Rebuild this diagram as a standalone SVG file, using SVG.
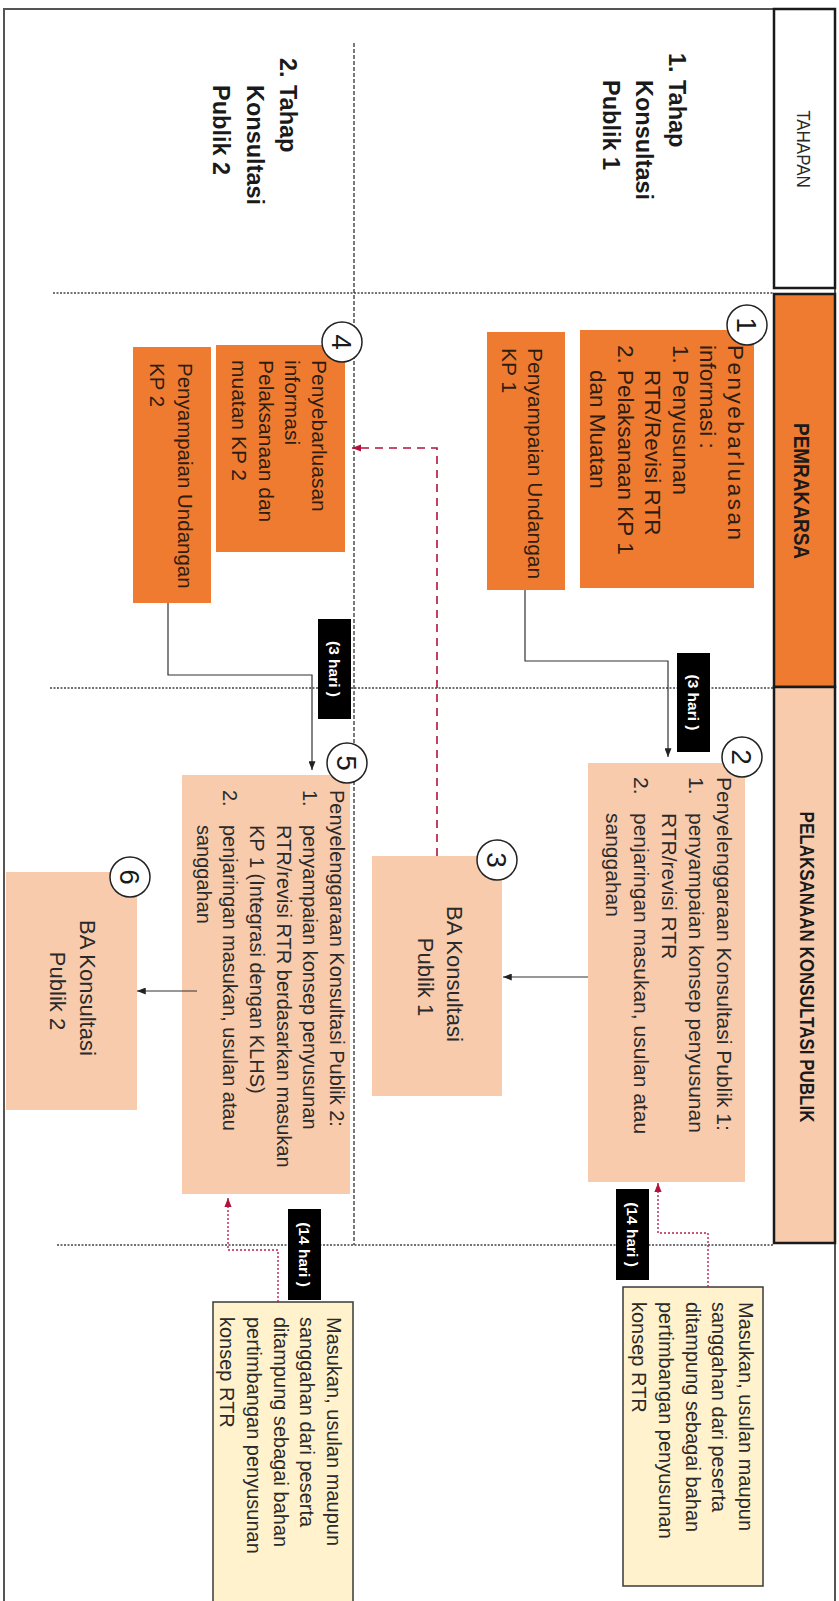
<svg xmlns="http://www.w3.org/2000/svg" width="839" height="1601" viewBox="0 0 839 1601">
  <style>
    text { font-family: "Liberation Sans", Arial, sans-serif; fill: #2a2a2a; }
    .t21 { font-size: 21px; }
    .t20 { font-size: 20px; }
    .t22 { font-size: 22px; }
    .dark { fill: #2e1d12; }
    .ttl { font-size: 23.5px; font-weight: bold; fill: #1a1a1a; }
    .hd { font-weight: bold; fill: #1a1a1a; }
    .badge-t { font-size: 15.5px; font-weight: bold; fill: #ffffff; }
    .num-t { font-size: 28px; fill: #1a1a1a; }
    .mid { text-anchor: middle; }
    .box-o { fill: #EE7B30; }
    .box-p { fill: #F8CBAD; }
    .note { fill: #FFF2CC; stroke: #3a3a3a; stroke-width: 1.5; }
    .hdr { stroke: #1a1a1a; stroke-width: 2.5; }
    .sep { stroke: #444; stroke-width: 1.3; stroke-dasharray: 2 1.5; fill: none; }
    .sepv { stroke: #333; stroke-width: 1.3; stroke-dasharray: 4 2; fill: none; }
    .link { fill: none; stroke: #333; stroke-width: 1.2; }
    .red-dash { fill: none; stroke: #B3123A; stroke-width: 1.6; stroke-dasharray: 8 6; }
    .red-dot { fill: none; stroke: #B8204A; stroke-width: 1.4; stroke-dasharray: 2 2; }
    .badge { fill: #000; }
    .num { fill: #fff; stroke: #222; stroke-width: 1.5; }
  </style>
  <defs>
    <marker id="arr" viewBox="0 0 10 8" refX="10" refY="4" markerWidth="9" markerHeight="7" markerUnits="userSpaceOnUse" orient="auto">
      <path d="M0,0 L10,4 L0,8 z" fill="#222"/>
    </marker>
    <marker id="arr-red" viewBox="0 0 10 8" refX="10" refY="4" markerWidth="9" markerHeight="8" markerUnits="userSpaceOnUse" orient="auto">
      <path d="M0,0 L10,4 L0,8 z" fill="#B3123A"/>
    </marker>
  </defs>

  <rect width="839" height="1601" fill="#ffffff"/>

  <!-- page frame (bottom edge runs off the page) -->
  <rect x="4" y="9" width="831" height="1620" fill="none" stroke="#555" stroke-width="2"/>

  <!-- header column -->
  <g id="hdr-tahapan">
    <rect x="774" y="9" width="61" height="279" fill="#fff" class="hdr"/>
    <text class="mid" font-size="17" transform="translate(797,149) rotate(90) scale(1,1.1)">TAHAPAN</text>
  </g>
  <g id="hdr-pemrakarsa">
    <rect x="774" y="294" width="61" height="393" class="box-o hdr"/>
    <text class="hd mid" font-size="19" transform="translate(794,491) rotate(90) scale(1,1.18)">PEMRAKARSA</text>
  </g>
  <g id="hdr-pelaksanaan">
    <rect x="774" y="687" width="61" height="556" class="box-p hdr"/>
    <text class="hd mid" font-size="17" transform="translate(800,967) rotate(90) scale(1,1.18)">PELAKSANAAN KONSULTASI PUBLIK</text>
  </g>

  <!-- lane separators -->
  <g id="separators">
    <line x1="53" y1="293" x2="774" y2="293" class="sep"/>
    <line x1="50" y1="688" x2="774" y2="688" class="sep"/>
    <line x1="57" y1="1245" x2="774" y2="1245" class="sep"/>
    <line x1="354" y1="43" x2="354" y2="1245" class="sepv"/>
  </g>

  <!-- stage titles -->
  <g id="stage-1">
    <text class="ttl" transform="translate(669,53) rotate(90)">
      <tspan x="0" y="0">1.</tspan><tspan x="27" y="0">Tahap</tspan>
      <tspan x="27" y="33">Konsultasi</tspan>
      <tspan x="27" y="66">Publik 1</tspan>
    </text>
  </g>
  <g id="stage-2">
    <text class="ttl" transform="translate(280,58) rotate(90)">
      <tspan x="0" y="0">2.</tspan><tspan x="27" y="0">Tahap</tspan>
      <tspan x="27" y="33.5">Konsultasi</tspan>
      <tspan x="27" y="67">Publik 2</tspan>
    </text>
  </g>

  <!-- process boxes -->
  <g id="node-1">
    <rect x="580" y="330" width="174" height="258" class="box-o"/>
    <text class="dark" font-size="22.5" transform="translate(728,345) rotate(90)">
      <tspan x="0" y="0" textLength="195" lengthAdjust="spacing">Penyebarluasan</tspan>
      <tspan x="0" y="27.6">informasi :</tspan>
      <tspan x="0" y="55.2">1.</tspan><tspan x="25" y="55.2">Penyusunan</tspan>
      <tspan x="25" y="82.8">RTR/Revisi RTR</tspan>
      <tspan x="0" y="110.4">2.</tspan><tspan x="25" y="110.4">Pelaksanaan KP 1</tspan>
      <tspan x="25" y="138">dan Muatan</tspan>
    </text>
  </g>
  <g id="node-undangan-1">
    <rect x="487" y="332" width="78" height="258" class="box-o"/>
    <text class="t21 dark" transform="translate(528,348) rotate(90)">
      <tspan x="0" y="0">Penyampaian Undangan</tspan>
      <tspan x="0" y="26">KP 1</tspan>
    </text>
  </g>
  <g id="node-2">
    <rect x="588" y="763" width="157" height="419" class="box-p"/>
    <text class="t21" transform="translate(717,777) rotate(90)">
      <tspan x="0" y="0">Penyelenggaraan Konsultasi Publik 1:</tspan>
      <tspan x="0" y="27.75">1.</tspan><tspan x="36" y="27.75">penyampaian konsep penyusunan</tspan>
      <tspan x="36" y="55.5">RTR/revisi RTR</tspan>
      <tspan x="0" y="83.25">2.</tspan><tspan x="36" y="83.25">penjaringan masukan, usulan atau</tspan>
      <tspan x="36" y="111">sanggahan</tspan>
    </text>
  </g>
  <g id="node-3">
    <rect x="372" y="856" width="130" height="240" class="box-p"/>
    <text class="t22 mid" transform="translate(447,977) rotate(90)">
      <tspan x="0" y="0">BA Konsultasi</tspan>
      <tspan x="0" y="29">Publik 1</tspan>
    </text>
  </g>
  <g id="node-4">
    <rect x="216" y="345" width="129" height="207" class="box-o"/>
    <text class="t21 dark" transform="translate(312,360) rotate(90)">
      <tspan x="0" y="0">Penyebarluasan</tspan>
      <tspan x="0" y="26.7">informasi</tspan>
      <tspan x="0" y="53.4">Pelaksanaan dan</tspan>
      <tspan x="0" y="80.1">muatan KP 2</tspan>
    </text>
  </g>
  <g id="node-undangan-2">
    <rect x="133" y="347" width="78" height="256" class="box-o"/>
    <text class="dark" font-size="20.5" transform="translate(178,363) rotate(90)">
      <tspan x="0" y="0">Penyampaian Undangan</tspan>
      <tspan x="0" y="28">KP 2</tspan>
    </text>
  </g>
  <g id="node-5">
    <rect x="182" y="775" width="168" height="419" class="box-p"/>
    <text class="t20" transform="translate(330,790) rotate(90)">
      <tspan x="0" y="0">Penyelenggaraan Konsultasi Publik 2:</tspan>
      <tspan x="0" y="26.7">1.</tspan><tspan x="35" y="26.7">penyampaian konsep penyusunan</tspan>
      <tspan x="35" y="53.4">RTR/revisi RTR berdasarkan masukan</tspan>
      <tspan x="35" y="80.1">KP 1 (Integrasi dengan KLHS)</tspan>
      <tspan x="0" y="106.8">2.</tspan><tspan x="35" y="106.8">penjaringan masukan, usulan atau</tspan>
      <tspan x="35" y="133.5">sanggahan</tspan>
    </text>
  </g>
  <g id="node-6">
    <rect x="6" y="872" width="131" height="238" class="box-p"/>
    <text class="t22 mid" transform="translate(80,991) rotate(90)">
      <tspan x="0" y="0">BA Konsultasi</tspan>
      <tspan x="0" y="30">Publik 2</tspan>
    </text>
  </g>

  <!-- input notes -->
  <g id="note-1">
    <rect x="623" y="1287" width="140" height="299" class="note"/>
    <text class="t20" transform="translate(739,1302) rotate(90)">
      <tspan x="0" y="0">Masukan, usulan maupun</tspan>
      <tspan x="0" y="26.75">sanggahan dari peserta</tspan>
      <tspan x="0" y="53.5">ditampung sebagai bahan</tspan>
      <tspan x="0" y="80.25">pertimbangan penyusunan</tspan>
      <tspan x="0" y="107">konsep RTR</tspan>
    </text>
  </g>
  <g id="note-2">
    <rect x="213" y="1302" width="140" height="320" class="note"/>
    <text class="t20" transform="translate(327,1317) rotate(90)">
      <tspan x="0" y="0">Masukan, usulan maupun</tspan>
      <tspan x="0" y="26.75">sanggahan dari peserta</tspan>
      <tspan x="0" y="53.5">ditampung sebagai bahan</tspan>
      <tspan x="0" y="80.25">pertimbangan penyusunan</tspan>
      <tspan x="0" y="107">konsep RTR</tspan>
    </text>
  </g>

  <!-- connectors -->
  <g id="connectors">
    <path d="M525 590 V661 H668 V757" class="link" marker-end="url(#arr)"/>
    <path d="M588 977 H503" class="link" marker-end="url(#arr)"/>
    <path d="M437 856 V448 H352" class="red-dash" marker-end="url(#arr-red)"/>
    <path d="M168 603 V675 H312 V770" class="link" marker-end="url(#arr)"/>
    <path d="M197 991 H137" class="link" marker-end="url(#arr)"/>
    <path d="M708 1287 V1233 H658 V1183" class="red-dot" marker-end="url(#arr-red)"/>
    <path d="M278 1302 V1250 H228 V1198" class="red-dot" marker-end="url(#arr-red)"/>
  </g>

  <!-- duration badges -->
  <g id="badge-3hari-1">
    <rect x="677" y="653" width="33" height="99" class="badge"/>
    <text class="badge-t mid" transform="translate(688,702.5) rotate(90)">(3 hari )</text>
  </g>
  <g id="badge-3hari-2">
    <rect x="318" y="619" width="33" height="100" class="badge"/>
    <text class="badge-t mid" transform="translate(329,669) rotate(90)">(3 hari )</text>
  </g>
  <g id="badge-14hari-1">
    <rect x="616" y="1189" width="33" height="91" class="badge"/>
    <text class="badge-t mid" transform="translate(627,1234.5) rotate(90)">(14 hari )</text>
  </g>
  <g id="badge-14hari-2">
    <rect x="288" y="1209" width="33" height="91" class="badge"/>
    <text class="badge-t mid" transform="translate(299,1254.5) rotate(90)">(14 hari )</text>
  </g>

  <!-- step numbers -->
  <g id="step-1"><circle cx="747" cy="325" r="20" class="num"/><text class="num-t mid" transform="translate(737,325) rotate(90)">1</text></g>
  <g id="step-2"><circle cx="742" cy="757" r="20" class="num"/><text class="num-t mid" transform="translate(732,757) rotate(90)">2</text></g>
  <g id="step-3"><circle cx="497" cy="860" r="20" class="num"/><text class="num-t mid" transform="translate(487,860) rotate(90)">3</text></g>
  <g id="step-4"><circle cx="342" cy="342" r="20" class="num"/><text class="num-t mid" transform="translate(332,342) rotate(90)">4</text></g>
  <g id="step-5"><circle cx="347" cy="763" r="20" class="num"/><text class="num-t mid" transform="translate(337,763) rotate(90)">5</text></g>
  <g id="step-6"><circle cx="130" cy="877" r="20" class="num"/><text class="num-t mid" transform="translate(120,877) rotate(90)">6</text></g>
</svg>
